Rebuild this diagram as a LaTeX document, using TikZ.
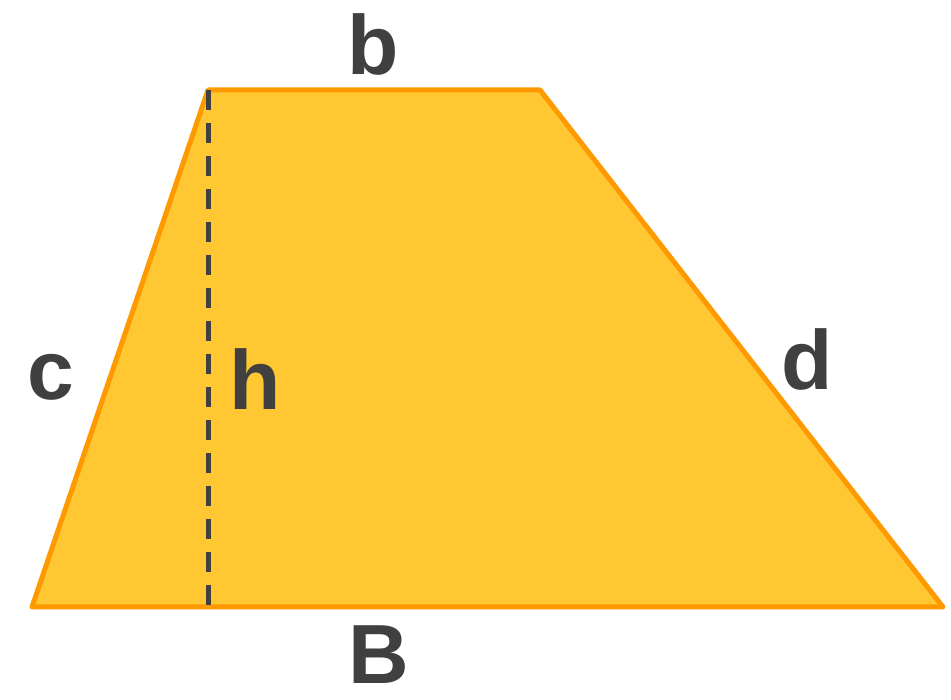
\documentclass[tikz,border=0pt]{standalone}
\usepackage{fontspec}
\setmainfont{Liberation Sans}
\usepackage{tkz-euclide}

\definecolor{trapfill}{RGB}{255,200,50}
\definecolor{trapline}{RGB}{255,153,0}
\definecolor{labelgray}{RGB}{64,64,64}

\tikzset{
  sidelabel/.style={anchor=base,inner sep=0pt,text=labelgray,
    font=\fontsize{84}{84}\selectfont\bfseries},
  heightline/.style={line width=5pt,color=labelgray,dash pattern=on 20pt off 13pt}
}

\begin{document}
\begin{tikzpicture}[x=1pt,y=1pt]
\useasboundingbox (0,0) rectangle (951,700);

\tkzDefPoints{32/93/A,943/93/B,540/610/C,208/610/D,208/93/H}

\tkzFillPolygon[fill=trapfill](A,B,C,D)
\tkzDrawPolygon[line width=5pt,color=trapline,line join=round](A,B,C,D)

\draw[heightline] (D) -- (H);

\node[sidelabel] (lb) at (373,625) {b};
\node[sidelabel] (lBig) at (379,16) {B};
\node[sidelabel] (lc) at (51,300) {c};
\node[sidelabel] (ld) at (807,310) {d};
\node[sidelabel] (lh) at (255,290) {h};

\end{tikzpicture}
\end{document}
